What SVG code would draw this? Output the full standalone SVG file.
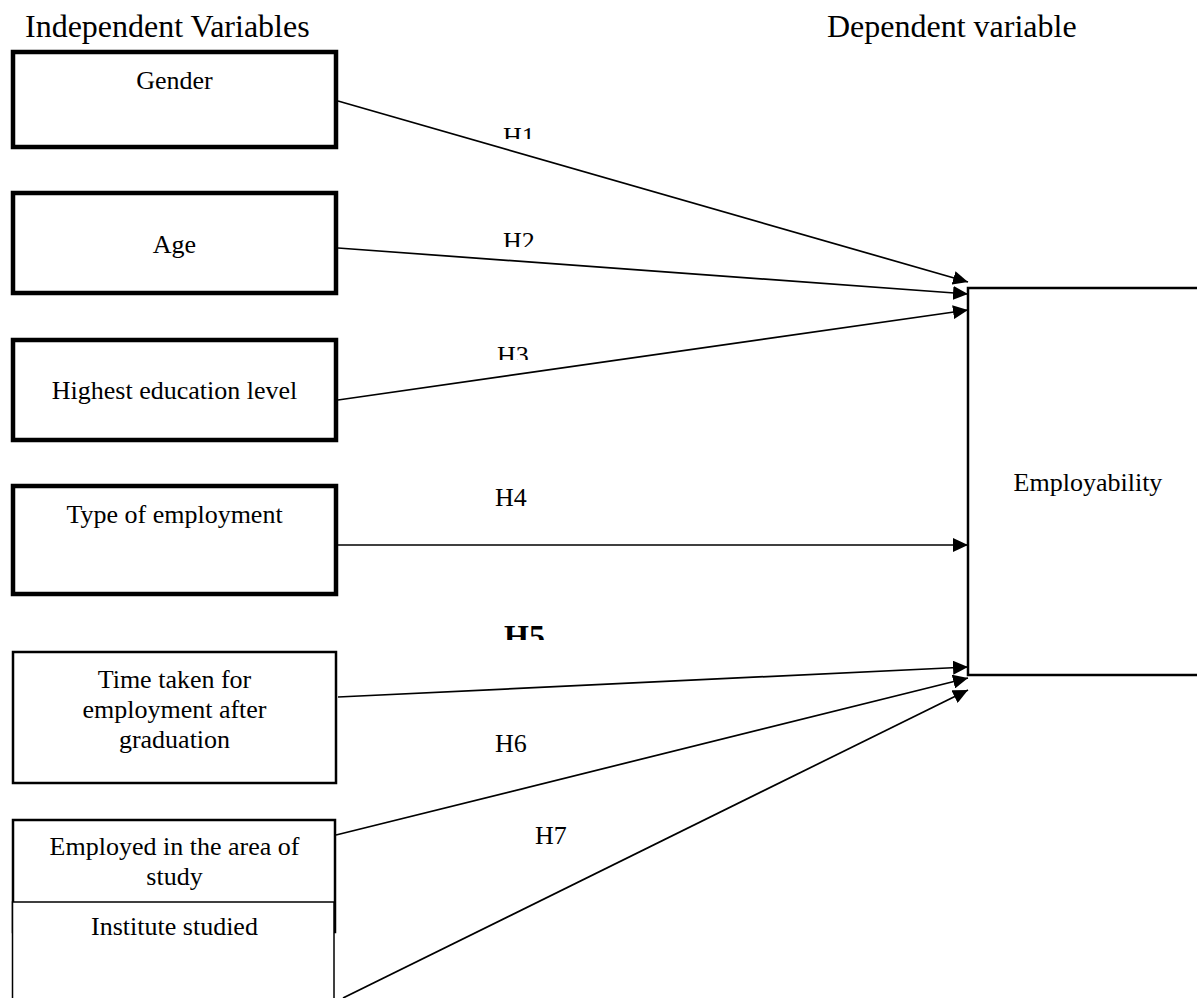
<svg xmlns="http://www.w3.org/2000/svg" width="1197" height="998" viewBox="0 0 1197 998">
<style>
text{font-family:"Liberation Serif","Times New Roman",serif;fill:#000}
.hdr{font-size:32px}
.lbl{font-size:26px;text-anchor:middle}
.h{font-size:26px}
.box{fill:#fff;stroke:#000}
.thick{stroke-width:4.5}
.mid{stroke-width:2.5}
.thin{stroke-width:1.5}
.conn line{stroke:#000;stroke-width:1.7;marker-end:url(#arr)}
</style>
<defs>
<marker id="arr" markerUnits="userSpaceOnUse" markerWidth="16" markerHeight="14" refX="15" refY="7" orient="auto">
<path d="M0,0 L15,7 L0,14 z" fill="#000"/>
</marker>
<clipPath id="c1"><rect x="480" y="110" width="80" height="29"/></clipPath>
<clipPath id="c2"><rect x="480" y="220" width="80" height="27"/></clipPath>
<clipPath id="c3"><rect x="480" y="330" width="80" height="30"/></clipPath>
<clipPath id="c5"><rect x="480" y="610" width="90" height="30"/></clipPath>
</defs>

<text class="hdr" x="25" y="37">Independent Variables</text>
<text class="hdr" x="827" y="37">Dependent variable</text>

<g id="gender"><rect class="box thick" x="13" y="52" width="323" height="95"/><text class="lbl" x="174.5" y="89">Gender</text></g>
<g id="age"><rect class="box thick" x="13" y="193" width="323" height="100"/><text class="lbl" x="174.5" y="253">Age</text></g>
<g id="education"><rect class="box thick" x="13" y="340" width="323" height="100"/><text class="lbl" x="174.5" y="399">Highest education level</text></g>
<g id="type"><rect class="box thick" x="13" y="486" width="323" height="108"/><text class="lbl" x="174.5" y="523">Type of employment</text></g>
<g id="time"><rect class="box mid" x="13" y="652" width="323" height="131"/><text class="lbl" x="174.5" y="688">Time taken for</text><text class="lbl" x="174.5" y="718">employment after</text><text class="lbl" x="174.5" y="748">graduation</text></g>
<g id="employed"><rect class="box mid" x="13" y="820" width="322" height="112"/><text class="lbl" x="174.5" y="855">Employed in the area of</text><text class="lbl" x="174.5" y="885">study</text></g>
<g id="institute"><rect class="box thin" x="12.5" y="902" width="321.5" height="110"/><text class="lbl" x="174.5" y="935">Institute studied</text></g>
<g id="employability"><rect class="box mid" x="968" y="288" width="240" height="387"/><text class="lbl" x="1088" y="491">Employability</text></g>

<g id="connectors" class="conn">
<line x1="338" y1="101" x2="968" y2="282"/>
<line x1="338" y1="248" x2="968" y2="294"/>
<line x1="338" y1="400" x2="968" y2="310"/>
<line x1="338" y1="545" x2="968" y2="545"/>
<line x1="338" y1="697" x2="968" y2="667"/>
<line x1="336" y1="835" x2="968" y2="678"/>
<line x1="343" y1="998" x2="968" y2="690"/>
</g>

<g id="labels">
<text class="h" x="503" y="145" clip-path="url(#c1)">H1</text>
<text class="h" x="503" y="250" clip-path="url(#c2)">H2</text>
<text class="h" x="497" y="364" clip-path="url(#c3)">H3</text>
<text class="h" x="495" y="506">H4</text>
<text x="504" y="647" font-size="32" font-weight="bold" clip-path="url(#c5)">H5</text>
<text class="h" x="495" y="752">H6</text>
<text class="h" x="535" y="844">H7</text>
</g>
</svg>
